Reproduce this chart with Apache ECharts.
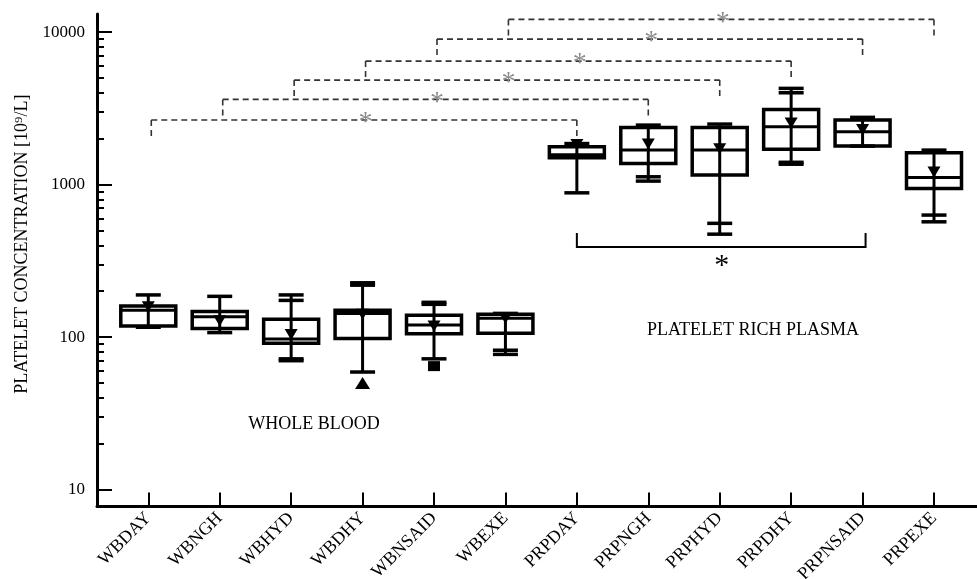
<!DOCTYPE html>
<html><head><meta charset="utf-8">
<script src="https://cdn.jsdelivr.net/npm/echarts@6/dist/echarts.min.js"></script>
<style>html,body{margin:0;padding:0;background:#fff}#c{width:977px;height:579px}</style>
</head><body><div id="c"></div>
<script>
// ---------- data ----------
const categories = ['WBDAY','WBNGH','WBHYD','WBDHY','WBNSAID','WBEXE','PRPDAY','PRPNGH','PRPHYD','PRPDHY','PRPNSAID','PRPEXE'];
const whiskerHigh  = [189, 185, 189, 227, 169, 143, 1858, 2455, 2493, 4275, 2760, 1683];
const whiskerHigh2 = [null, null, 174, 219, 164, null, null, null, null, 4000, null, null];
const q3           = [160, 147, 131, 150, 139, 141, 1770, 2371, 2371, 3112, 2649, 1617];
const median       = [150, 136, 97, 143, 120, 133, 1570, 1683, 1683, 2394, 2218, 1115];
const q1           = [118, 114, 91, 98, 105, 106, 1500, 1377, 1154, 1702, 1788, 944];
const whiskerLow2  = [null, null, 72, null, null, 82, null, 1125, 557, 1400, null, 631];
const whiskerLow   = [116, 107, 70, 59, 72, 77, 883, 1054, 473, 1360, 1788, 570];
const mean         = [158, 128, 104, 141, 118, 133, 1830, 1845, 1720, 2530, 2300, 1208];
const outlierTriangle = [[3, 50]];
const outlierSquare   = [[4, 64.5]];
const yTickValues = [10, 100, 1000, 10000];
const yMinorTickValues = [20,30,40,50,60,70,80,90,200,300,400,500,600,700,800,900,2000,3000,4000,5000,6000,7000,8000,9000];
const bracketFrom  = [0, 1, 2, 3, 4, 5];
const bracketTo    = [6, 7, 8, 9, 10, 11];
const bracketLevel = [2650, 3620, 4845, 6455, 8995, 12115];
const groupBracketFrom = [6];
const groupBracketTo = [10];
const groupBracketLevel = [389];
const yAxisTitle = 'PLATELET CONCENTRATION [10\u2079/L]';
const groupLabels = ['WHOLE BLOOD', 'PLATELET RICH PLASMA'];

// ---------- chart ----------
const FONT = '"Liberation Serif", "Times New Roman", serif';
const idx = categories.map((_, i) => i);
const Y_MIN = 7.745, Y_MAX = 13141;
const X_MIN = -0.718, X_MAX = 11.602;

function boxItem(params, api) {
  const i = api.value(0);
  const P = v => api.coord([i, v]);
  const band = api.size([1, 0], [i, 100])[0];
  const half = band * 0.385, capHalf = band * 0.175;
  const x = P(q1[i])[0];
  const yq1 = P(q1[i])[1], yq3 = P(q3[i])[1], ymed = P(median[i])[1];
  const ylo = P(whiskerLow[i])[1], yhi = P(whiskerHigh[i])[1];
  const st = {stroke: '#000', lineWidth: 3};
  const children = [
    {type: 'rect', shape: {x: x - half, y: yq3, width: 2 * half, height: yq1 - yq3}, style: {stroke: '#000', lineWidth: 3.5, fill: 'none'}},
    {type: 'line', shape: {x1: x, y1: yhi, x2: x, y2: ylo}, style: st},
    {type: 'line', shape: {x1: x - half, y1: ymed, x2: x + half, y2: ymed}, style: st}
  ];
  [whiskerLow[i], whiskerLow2[i], whiskerHigh[i], whiskerHigh2[i]].forEach(v => {
    if (v != null) {
      const y = P(v)[1];
      children.push({type: 'line', shape: {x1: x - capHalf, y1: y, x2: x + capHalf, y2: y}, style: {stroke: '#000', lineWidth: 3.5}});
    }
  });
  return {type: 'group', children};
}

function bracketItem(params, api) {
  const k = params.dataIndex;
  const pL = api.coord([bracketFrom[k], bracketLevel[k]]);
  const pR = api.coord([bracketTo[k], bracketLevel[k]]);
  const pM = api.coord([(bracketFrom[k] + bracketTo[k]) / 2, bracketLevel[k]]);
  const xL = pL[0] + 3, xR = pR[0], y = pL[1];
  const ds = {stroke: '#333', lineWidth: 1.6, lineDash: [6, 4]};
  return {type: 'group', children: [
    {type: 'line', shape: {x1: xL, y1: y, x2: xR, y2: y}, style: ds},
    {type: 'line', shape: {x1: xL, y1: y, x2: xL, y2: y + 16}, style: ds},
    {type: 'line', shape: {x1: xR, y1: y, x2: xR, y2: y + 16}, style: ds},
    {type: 'text', x: pM[0] + 3, y: y + 3, style: {text: '*', fill: '#8c8c8c', fontSize: 28, fontFamily: FONT, align: 'center', verticalAlign: 'middle'}}
  ]};
}

function groupBracketItem(params, api) {
  const k = params.dataIndex;
  const pL = api.coord([groupBracketFrom[k], groupBracketLevel[k]]);
  const pR = api.coord([groupBracketTo[k], groupBracketLevel[k]]);
  const pM = api.coord([(groupBracketFrom[k] + groupBracketTo[k]) / 2, groupBracketLevel[k]]);
  const y = pL[1];
  const s = {stroke: '#000', lineWidth: 2};
  return {type: 'group', children: [
    {type: 'polyline', shape: {points: [[pL[0], y - 14], [pL[0], y], [pR[0] + 3, y], [pR[0] + 3, y - 14]]}, style: Object.assign({fill: 'none'}, s)},
    {type: 'text', x: pM[0] + 2, y: y + 19, style: {text: '*', fill: '#000', fontSize: 30, fontFamily: FONT, align: 'center', verticalAlign: 'middle'}}
  ]};
}

const yBase = {
  type: 'log', min: Y_MIN, max: Y_MAX, position: 'left',
  splitLine: {show: false}, minorTick: {show: false}, minorSplitLine: {show: false}
};

const option = {
  animation: false,
  backgroundColor: '#fff',
  grid: {left: 97, right: 0, top: 14, bottom: 72.5, containLabel: false, outerBoundsMode: 'none'},
  xAxis: {
    type: 'value', min: X_MIN, max: X_MAX,
    splitLine: {show: false},
    axisLine: {onZero: false, lineStyle: {color: '#000', width: 3}},
    axisTick: {customValues: idx, inside: true, length: 14, lineStyle: {color: '#000', width: 2}},
    axisLabel: {customValues: idx, rotate: 45, margin: 9, color: '#000', fontSize: 18, fontFamily: FONT,
      formatter: v => categories[Math.round(v)]}
  },
  yAxis: [
    Object.assign({}, yBase, {
      name: yAxisTitle, nameLocation: 'middle', nameGap: 66,
      nameTextStyle: {color: '#000', fontSize: 18, fontFamily: FONT, padding: [0, 0, 0, 32]},
      axisLine: {show: true, onZero: false, lineStyle: {color: '#000', width: 3}},
      axisTick: {customValues: yTickValues, inside: true, length: 15, lineStyle: {color: '#000', width: 2}},
      axisLabel: {customValues: yTickValues, margin: 12, color: '#000', fontSize: 17, fontFamily: FONT,
        formatter: v => String(Math.round(v))}
    }),
    Object.assign({}, yBase, {
      axisLine: {show: false, onZero: false},
      axisLabel: {show: false},
      axisTick: {customValues: yMinorTickValues, inside: true, length: 7, lineStyle: {color: '#000', width: 2}}
    })
  ],
  series: [
    {type: 'custom', name: 'box', renderItem: boxItem, data: idx.map(i => [i, q1[i], q3[i]]), encode: {x: 0, y: [1, 2]}, z: 3},
    {type: 'scatter', name: 'mean', data: idx.map(i => [i, mean[i]]), symbol: 'triangle', symbolRotate: 180, symbolSize: [13, 11], itemStyle: {color: '#000', opacity: 1}, z: 4},
    {type: 'scatter', name: 'outlier1', data: outlierTriangle, symbol: 'triangle', symbolSize: [15, 12], itemStyle: {color: '#000', opacity: 1}, z: 4},
    {type: 'scatter', name: 'outlier2', data: outlierSquare, symbol: 'rect', symbolSize: [12, 10], itemStyle: {color: '#000', opacity: 1}, z: 4},
    {type: 'custom', name: 'brackets', renderItem: bracketItem, data: bracketLevel.map((v, k) => [bracketFrom[k], bracketTo[k], v]), encode: {x: [0, 1], y: 2}, z: 2},
    {type: 'custom', name: 'groupBracket', renderItem: groupBracketItem, data: groupBracketLevel.map((v, k) => [groupBracketFrom[k], groupBracketTo[k], v]), encode: {x: [0, 1], y: 2}, z: 2}
  ],
  graphic: [
    {type: 'text', x: 314, y: 424, style: {text: groupLabels[0], fill: '#000', fontSize: 18, fontFamily: FONT, align: 'center', verticalAlign: 'middle'}},
    {type: 'text', x: 753, y: 330, style: {text: groupLabels[1], fill: '#000', fontSize: 18, fontFamily: FONT, align: 'center', verticalAlign: 'middle'}}
  ]
};

const chart = echarts.init(document.getElementById('c'));
chart.setOption(option);
</script>
</body></html>
